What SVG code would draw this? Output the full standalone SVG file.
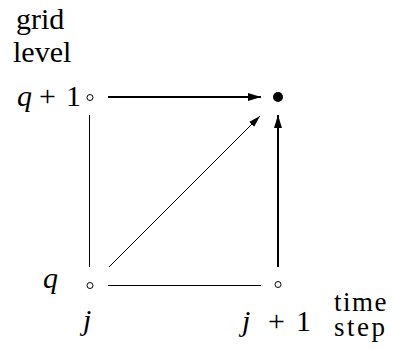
<svg xmlns="http://www.w3.org/2000/svg" width="397" height="349" viewBox="0 0 397 349" font-family="Liberation Serif, Times New Roman, DejaVu Serif, serif">
<defs>
<style>
.t{font-family:'Liberation Serif','Times New Roman','DejaVu Serif',serif;font-size:30px;fill:#000}
.s{font-size:27px}
.m{font-style:italic}
.open{fill:#fff;stroke:#000;stroke-width:1}
.thin{stroke:#000;stroke-width:1;fill:none}
.thick{stroke:#000;stroke-width:2;fill:none}
</style>
<marker id="ah" markerUnits="userSpaceOnUse" markerWidth="14" markerHeight="10" refX="13" refY="4" orient="auto" viewBox="0 0 14 8">
<path d="M0,0 L13,4 L0,8 Z" fill="#000"/>
</marker>
<marker id="ahs" markerUnits="userSpaceOnUse" markerWidth="13" markerHeight="9" refX="12" refY="3.5" orient="auto" viewBox="0 0 13 7">
<path d="M0,0 L12,3.5 L0,7 Z" fill="#000"/>
</marker>
</defs>
<g id="axis-labels">
<text class="t" x="16" y="29">grid</text>
<text class="t" x="13" y="62">level</text>
<text class="t s" x="334" y="311" letter-spacing="1.5">time</text>
<text class="t s" x="334" y="336" letter-spacing="2.5">step</text>
</g>
<g id="connectors">
<line class="thick" x1="108" y1="97" x2="261" y2="97" marker-end="url(#ah)"/>
<line class="thick" x1="278" y1="267" x2="278" y2="115" marker-end="url(#ah)"/>
<line class="thin" x1="109" y1="267" x2="260" y2="116" marker-end="url(#ahs)"/>
<line class="thin" x1="89.5" y1="115" x2="89.5" y2="267"/>
<line class="thin" x1="108" y1="285.5" x2="261" y2="285.5"/>
</g>
<g id="node-q1-j">
<circle class="open" cx="90" cy="97.5" r="3"/>
<text class="t" y="106"><tspan class="m" x="17">q</tspan><tspan x="39">+</tspan><tspan x="66">1</tspan></text>
</g>
<g id="node-q1-j1">
<circle cx="278" cy="97" r="5" fill="#000"/>
</g>
<g id="node-q-j">
<circle class="open" cx="90" cy="285.5" r="3"/>
<text class="t m" x="43" y="288">q</text>
<text class="t m" x="83" y="330">j</text>
</g>
<g id="node-q-j1">
<circle class="open" cx="278" cy="284.5" r="3"/>
<text class="t" y="331"><tspan class="m" x="242">j</tspan><tspan x="268">+</tspan><tspan x="296">1</tspan></text>
</g>
</svg>
